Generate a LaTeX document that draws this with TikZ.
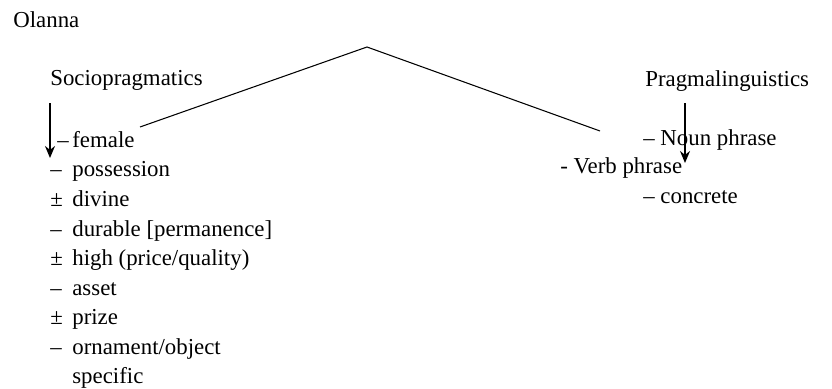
\documentclass[tikz,border=0pt]{standalone}
\usepackage{fontspec}
\setmainfont{Liberation Serif}
\usetikzlibrary{arrows.meta}

\newcommand{\sgn}[2][0.44cm]{\makebox[#1][l]{#2}}

\begin{document}
\begin{tikzpicture}[>={Stealth[length=2.4mm,width=2mm]},
  font=\fontsize{13}{16}\selectfont,
  txt/.style={anchor=base west,inner sep=0pt},
  item/.style={anchor=base west,inner sep=0pt},
  arr/.style={->,line width=0.8pt},
  link/.style={line width=0.6pt}]
  \useasboundingbox (0,0) rectangle (16.64,7.76);
  % --- title ---
  \node[txt] (olanna) at (0.26,7.20) {Olanna};
  % --- left: sociopragmatics ---
  \node[txt] (socio) at (1.00,6.04) {Sociopragmatics};
  \node[item] (it1) at (1.14,4.82) {\sgn[0.30cm]{–}female};
  \node[item] (it2) at (1.00,4.24) {\sgn{–}possession};
  \node[item] (it3) at (1.00,3.64) {\sgn{±}divine};
  \node[item] (it4) at (1.00,3.04) {\sgn{–}durable [permanence]};
  \node[item] (it5) at (1.00,2.46) {\sgn{±}high (price/quality)};
  \node[item] (it6) at (1.00,1.86) {\sgn{–}asset};
  \node[item] (it7) at (1.00,1.28) {\sgn{±}prize};
  \node[item] (it8) at (1.00,0.68) {\sgn{–}ornament/object};
  \node[item] (it9) at (1.44,0.10) {specific};
  \coordinate (sTop) at (1.00,5.70);
  \coordinate (sTip) at (1.00,4.60);
  \draw[arr] (sTop) -- (sTip);
  % --- right: pragmalinguistics ---
  \node[txt] (pragma) at (12.90,6.02) {Pragmalinguistics};
  \node[item] (noun) at (12.86,4.86) {– Noun phrase};
  \node[item] (verb) at (11.20,4.30) {- Verb phrase};
  \node[item] (concr) at (12.86,3.70) {– concrete};
  \coordinate (pTop) at (13.70,5.70);
  \coordinate (pTip) at (13.70,4.50);
  \draw[arr] (pTop) -- (pTip);
  % --- connecting roof ---
  \coordinate (lEnd) at (2.80,5.22);
  \coordinate (apex) at (7.34,6.82);
  \coordinate (rEnd) at (12.00,5.14);
  \draw[link] (lEnd) -- (apex) -- (rEnd);
\end{tikzpicture}
\end{document}
